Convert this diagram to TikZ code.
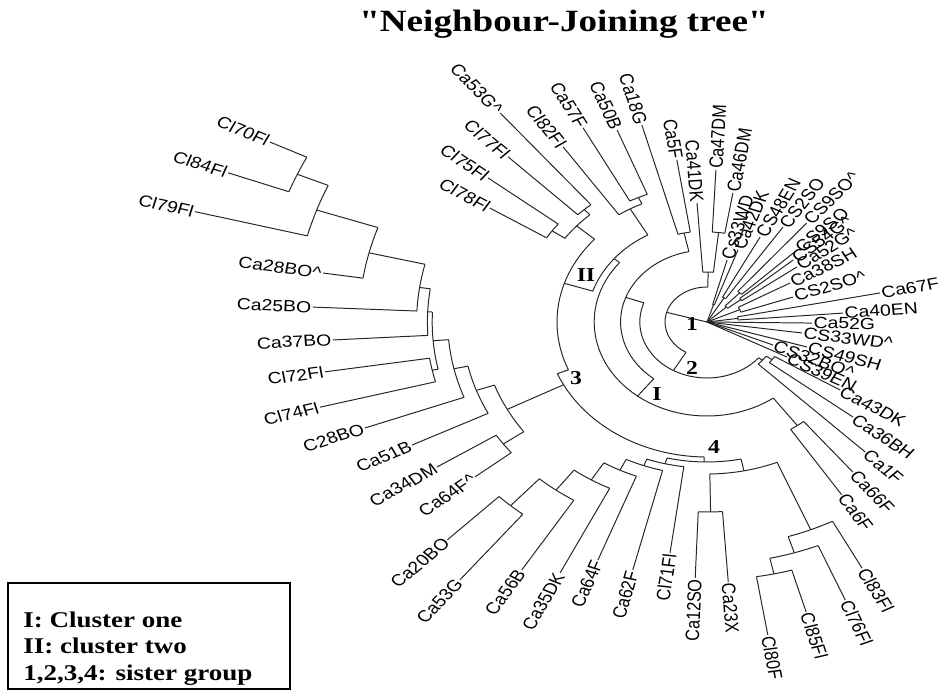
\documentclass[tikz,border=0pt]{standalone}
\usepackage{fontspec}
\setmainfont{Liberation Serif}
\newfontfamily\tipfont{Liberation Sans}
\usetikzlibrary{positioning}

\tikzset{
  branch/.style={line width=0.7pt, black!85},
  tiplabel/.style={font=\tipfont\fontsize{11.5}{13}\selectfont, inner sep=0.8pt, transform shape},
  grouplabel/.style={font=\bfseries\fontsize{14}{16}\selectfont, inner sep=0pt, xscale=1.2},
  legendtext/.style={font=\bfseries\fontsize{16}{18}\selectfont, inner sep=0pt, anchor=base west, xscale=1.2},
}

% arc of a clade at radius #1 from angle #2 to #3
\newcommand\fan[3]{\draw[branch] (#2:#1) arc[start angle=#2, end angle=#3, radius=#1];}
% clade: name, angle, parent radius, radius, arc from, arc to
\newcommand\clade[6]{%
  \coordinate (#1) at (#2:#4);
  \draw[branch] (#2:#3) -- (#1);
  \fan{#4}{#5}{#6}}
% leaf: name, angle, parent radius, radius, text
\newcommand\leaf[5]{%
  \coordinate (#1) at (#2:#4);
  \draw[branch] (#2:#3) -- (#1);
  \pgfmathtruncatemacro\lside{(#2>90)&&(#2<270)}%
  \ifnum\lside=1
    \node[tiplabel, anchor=east, rotate=#2-180] (#1-t) at (#1) {#5};
  \else
    \node[tiplabel, anchor=west, rotate=#2] (#1-t) at (#1) {#5};
  \fi}

\begin{document}
\begin{tikzpicture}[x=0.025cm, y=0.025cm]
\useasboundingbox (-707,-369) rectangle (236,322);

% title
\node[font=\bfseries\fontsize{22}{24}\selectfont, anchor=base, inner sep=0pt, xscale=1.2] (title) at (-143,290) {\textquotedbl Neighbour-Joining tree\textquotedbl};

\begin{scope}[xscale=1.2]
% group 1 (star)
\clade{s1}{72.6}{0}{18}{70.3}{74.9}
 \leaf{Cs33WD}{74.9}{18}{64.2}{Cs33WD}
 \leaf{Ca42DK}{70.3}{18}{76.5}{Ca42DK}
\clade{s2}{59.4}{0}{28}{56.3}{62.5}
 \leaf{CS48EN}{62.5}{28}{95.8}{CS48EN}
 \leaf{CS2SO}{56.3}{28}{114}{CS2SO}
\clade{s7}{42.7}{0}{22}{38.55}{46.9}
\clade{s3}{46.9}{22}{40}{43.8}{50}
 \leaf{CS9SOc}{50}{40}{129}{CS9SO\textasciicircum}
 \leaf{CS9SO}{43.8}{40}{104}{CS9SO}
\clade{s4}{38.55}{22}{36}{36.3}{40.8}
 \leaf{CS54Gc}{40.8}{36}{94.8}{CS54G\textasciicircum}
 \leaf{Ca52Gc}{36.3}{36}{93}{Ca52G\textasciicircum}
\clade{s5}{24.3}{0}{30}{19.2}{29.4}
 \leaf{Ca38SH}{29.4}{30}{79.4}{Ca38SH}
 \leaf{CS2SOc}{19.2}{30}{75.9}{CS2SO\textasciicircum}
\clade{s6}{7.95}{0}{26}{4.5}{11.4}
 \leaf{Ca67F}{11.4}{26}{147}{Ca67F}
 \leaf{Ca40EN}{4.5}{26}{113.7}{Ca40EN}
\leaf{Ca52G}{-0.7}{0}{87.5}{Ca52G}
\leaf{CS33WDc}{-7.9}{0}{80}{CS33WD\textasciicircum}
\leaf{CS49SH}{-16.7}{0}{87}{CS49SH}
\leaf{CS32BOc}{-22.7}{0}{59.6}{CS32BO\textasciicircum}
\leaf{CS39EN}{-27.7}{0}{75.3}{CS39EN}

% rest of the tree
\clade{P}{164}{0}{35}{88.9}{240}
 \clade{B}{88.9}{35}{50}{83.85}{94}
  \leaf{Ca41DK}{94}{50}{119.3}{Ca41DK}
  \clade{A}{83.85}{50}{90}{80.5}{87.2}
   \leaf{Ca47DM}{87.2}{90}{152.2}{Ca47DM}
   \leaf{Ca46DM}{80.5}{90}{130.8}{Ca46DM}
 \clade{N2}{240}{35}{56}{160}{320.3}
  \clade{RL0}{320.3}{56}{60}{315.4}{325.25}
   \leaf{Ca1F}{315.4}{60}{185}{Ca1F}
   \clade{RL1}{325.25}{60}{66}{322}{328.5}
    \leaf{Ca43DK}{328.5}{66}{130}{Ca43DK}
    \leaf{Ca36BH}{322}{66}{154.4}{Ca36BH}
  \clade{M}{160}{56}{72}{102.1}{232}
   \clade{T}{102.1}{72}{91}{98.8}{105.4}
    \leaf{Ca18G}{105.4}{91}{204.3}{Ca18G}
    \leaf{Ca5F}{98.8}{91}{163.9}{Ca5F}
   \clade{I}{232}{72}{94}{140.75}{306}
    \clade{RL2}{306}{94}{128}{303}{309}
     \leaf{Ca66F}{309}{128}{193}{Ca66F}
     \leaf{Ca6F}{303}{128}{206}{Ca6F}
    \clade{K}{140.75}{94}{100}{119.5}{162}
     \clade{U2}{119.5}{100}{130}{114.65}{124.4}
      \leaf{Cl82Fl}{124.4}{130}{212.2}{Cl82Fl}
      \clade{U1}{114.65}{130}{137}{111.3}{118}
       \leaf{Ca57F}{118}{137}{219.8}{Ca57F}
       \leaf{Ca50B}{111.3}{137}{206.1}{Ca50B}
     \clade{II}{162}{100}{125}{138.5}{202.5}
      \clade{X}{138.5}{125}{145}{132.3}{144.75}
       \clade{X1}{144.75}{145}{158}{141.7}{147.8}
        \leaf{Cl78Fl}{147.8}{158}{213.8}{Cl78Fl}
        \leaf{Cl75Fl}{141.7}{158}{232.5}{Cl75Fl}
       \clade{X2}{132.3}{145}{152}{129.5}{135.1}
        \leaf{Cl77Fl}{135.1}{152}{234}{Cl77Fl}
        \leaf{Ca53Gc}{129.5}{152}{271}{Ca53G\textasciicircum}
      \clade{N3}{202.5}{125}{135}{202.5}{269}
       \clade{a9}{207.7}{135}{188}{199.6}{215.7}
        \clade{b2}{215.7}{188}{209}{212.8}{218.7}
         \leaf{Ca34DM}{212.8}{209}{267.7}{Ca34DM}
         \leaf{Ca64Fc}{218.7}{209}{247.8}{Ca64F\textasciicircum}
        \clade{a8}{199.6}{188}{204}{192.5}{206.6}
         \leaf{Ca51B}{206.6}{204}{274.9}{Ca51B}
         \clade{a7}{192.5}{204}{216}{184.7}{200.4}
          \leaf{C28BO}{200.4}{216}{304}{C28BO}
          \clade{a6}{184.7}{216}{229}{177.5}{191.9}
           \clade{b1}{191.9}{229}{234}{188.9}{194.8}
            \leaf{Cl72Fl}{188.9}{234}{322.2}{Cl72Fl}
            \leaf{Cl74Fl}{194.8}{234}{333.5}{Cl74Fl}
           \clade{a5}{177.5}{229}{233}{171.8}{183.3}
            \leaf{Ca37BO}{183.3}{233}{312.2}{Ca37BO}
            \clade{a4}{171.8}{233}{242}{166.2}{177.4}
             \leaf{Ca25BO}{177.4}{242}{328.7}{Ca25BO}
             \clade{a3}{166.2}{242}{290}{161}{171.3}
              \leaf{Ca28BOc}{171.3}{290}{323.7}{Ca28BO\textasciicircum}
              \clade{a2}{161}{290}{344}{156.6}{165.5}
               \leaf{Cl79Fl}{165.5}{344}{440.6}{Cl79Fl}
               \clade{a1}{156.6}{344}{372}{153.7}{159.5}
                \leaf{Cl70Fl}{153.7}{372}{406.2}{Cl70Fl}
                \leaf{Cl84Fl}{159.5}{372}{426}{Cl84Fl}
       \clade{n4}{269}{135}{140}{256.2}{281.7}
        \clade{d5}{256.2}{140}{146}{249.9}{262.4}
         \leaf{Cl71Fl}{262.4}{146}{233}{Cl71Fl}
         \clade{d4}{249.9}{146}{153}{243.9}{256}
          \leaf{Ca62F}{256}{153}{255.6}{Ca62F}
          \clade{d3}{243.9}{153}{165}{238.6}{249.1}
           \leaf{Ca64F}{249.1}{165}{254.7}{Ca64F}
           \clade{d2}{238.6}{165}{185}{233.2}{244}
            \leaf{Ca35DK}{244}{185}{279}{Ca35DK}
            \clade{d1}{233.2}{185}{210}{228.3}{238.1}
             \leaf{Ca56B}{238.1}{210}{292}{Ca56B}
             \clade{b3}{228.3}{210}{246}{225.2}{231.4}
              \leaf{Ca20BO}{225.2}{246}{307}{Ca20BO}
              \leaf{Ca53G}{231.4}{246}{330}{Ca53G}
        \clade{c1}{281.7}{140}{152}{270.9}{292.6}
         \clade{c2}{270.9}{152}{190}{267.8}{273.9}
          \leaf{Ca12SO}{267.8}{190}{256.2}{Ca12SO}
          \leaf{Ca23X}{273.9}{190}{260.6}{Ca23X}
         \clade{c3}{292.6}{152}{225}{287.5}{297.7}
          \leaf{Cl83Fl}{297.7}{225}{278}{Cl83Fl}
          \clade{c4}{287.5}{225}{242}{282.5}{292.5}
           \leaf{Cl76Fl}{292.5}{242}{301}{Cl76Fl}
           \clade{c5}{282.5}{242}{258}{279.2}{285.9}
            \leaf{Cl80F}{279.2}{258}{317}{Cl80F}
            \leaf{Cl85Fl}{285.9}{258}{301.5}{Cl85Fl}
\end{scope}

% group labels
\node[grouplabel] (g1) at (-15,-2) {1};
\node[grouplabel] (g2) at (-15,-46) {2};
\node[grouplabel] (gI) at (-50,-72) {I};
\node[grouplabel] (gII) at (-121,47) {II};
\node[grouplabel] (g3) at (-131,-56) {3};
\node[grouplabel] (g4) at (7,-125) {4};

% legend
\draw[line width=0.8pt] (-699,-261) rectangle (-417,-367);
\node[legendtext] (leg1) at (-684,-305) {I: Cluster one};
\node[legendtext] (leg2) at (-684,-331) {II: cluster two};
\node[legendtext] (leg3) at (-684,-358) {1,2,3,4: sister group};
\end{tikzpicture}
\end{document}
